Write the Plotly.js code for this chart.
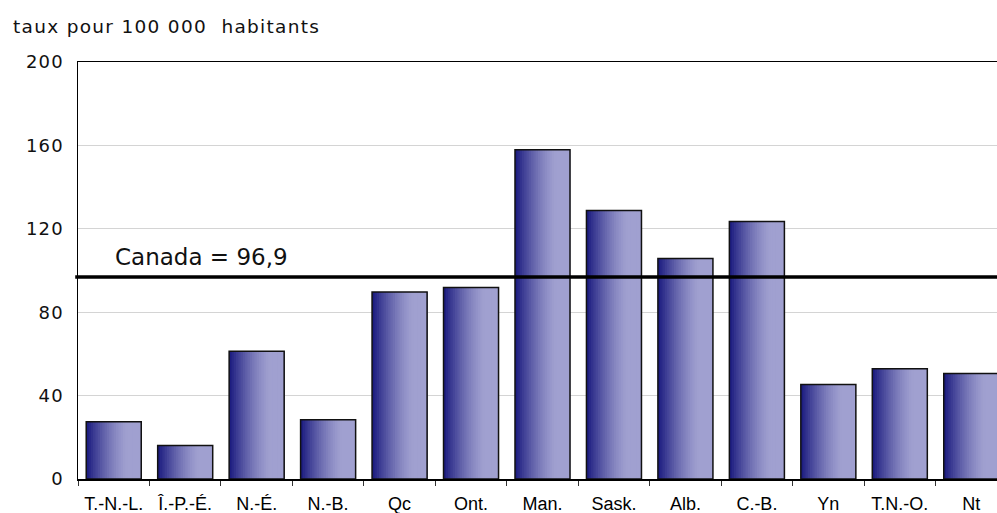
<!DOCTYPE html>
<html>
<head>
<meta charset="utf-8">
<script src="https://cdn.plot.ly/plotly-3.0.1.min.js"></script>
<style>
  html, body { margin: 0; padding: 0; background: #fff; overflow: hidden; width: 997px; height: 513px; }
  #chart { width: 1040px; height: 513px; }
  .ytick text { letter-spacing: 1.2px; }
  .gtitle { letter-spacing: 1.3px; }
</style>
</head>
<body>
<div id="chart"></div>
<script>
// Data
const categories = ['T.-N.-L.', 'Î.-P.-É.', 'N.-É.', 'N.-B.', 'Qc', 'Ont.', 'Man.', 'Sask.', 'Alb.', 'C.-B.', 'Yn', 'T.N.-O.', 'Nt'];
const rates = [27.4, 16.1, 61.3, 28.4, 89.7, 91.9, 157.9, 128.8, 105.8, 123.5, 45.3, 52.9, 50.6];
const canadaRate = 96.9;
const canadaLabel = 'Canada = 96,9';
const yTickValues = [0, 40, 80, 120, 160, 200];
const yTitle = 'taux pour 100 000\u00A0 habitants';

// Styling
const barWidth = 0.77;
const nSlices = 24;
const dark = [24, 24, 125];
const light = [160, 160, 208];

function sliceColor(t) {
  let u = Math.min(1, t / 0.75);
  u = 1 - Math.pow(1 - u, 1.4);
  const c = dark.map((d, i) => Math.round(d + (light[i] - d) * u));
  return 'rgb(' + c.join(',') + ')';
}

const traces = [];
for (let k = 0; k < nSlices; k++) {
  const start = k * barWidth / nSlices;
  traces.push({
    type: 'bar',
    x: categories,
    y: rates,
    width: barWidth - start,
    offset: -barWidth / 2 + start,
    marker: { color: sliceColor((k + 0.5) / nSlices), line: { width: 0 } },
    hoverinfo: 'skip',
    showlegend: false
  });
}
traces.push({
  type: 'bar',
  x: categories,
  y: rates,
  width: barWidth,
  offset: -barWidth / 2,
  marker: { color: 'rgba(0,0,0,0)', line: { color: '#111', width: 1.5 } },
  hoverinfo: 'skip',
  showlegend: false
});

const layout = {
  width: 1040,
  height: 513,
  margin: { l: 78, r: 33, t: 62, b: 34 },
  paper_bgcolor: '#fff',
  plot_bgcolor: '#fff',
  barmode: 'overlay',
  showlegend: false,
  hovermode: false,
  title: {
    text: yTitle,
    xref: 'container', yref: 'container',
    x: 13 / 1040, xanchor: 'left',
    y: 1 - 27 / 513, yanchor: 'middle',
    font: { family: 'DejaVu Sans, Verdana, sans-serif', size: 18.5, color: '#111' }
  },
  xaxis: {
    type: 'category',
    range: [-0.5, 12.5],
    showgrid: false,
    zeroline: false,
    showline: true, linecolor: '#000', linewidth: 1.5, mirror: true,
    ticks: 'outside', tickson: 'boundaries', ticklen: 5, tickcolor: '#333', tickwidth: 1,
    ticklabelstandoff: 8,
    tickfont: { family: 'Liberation Sans, Arial, sans-serif', size: 18, color: '#000' },
    fixedrange: true
  },
  yaxis: {
    range: [0, 200],
    tickvals: yTickValues,
    ticktext: yTickValues.map(String),
    showgrid: true, gridcolor: '#d4d4d4', gridwidth: 1,
    zeroline: false,
    showline: true, linecolor: '#000', linewidth: 1.5,
    ticks: '',
    ticklabelstandoff: 9,
    tickfont: { family: 'DejaVu Sans, Verdana, sans-serif', size: 18, color: '#111' },
    fixedrange: true
  },
  shapes: [{
    type: 'line', xref: 'paper', yref: 'y',
    x0: -0.003, x1: 1, y0: canadaRate, y1: canadaRate,
    line: { color: '#000', width: 3.5 }
  }],
  annotations: [{
    text: canadaLabel,
    xref: 'paper', yref: 'y',
    x: (114 - 78) / 929, xanchor: 'left',
    y: canadaRate, yanchor: 'bottom', yshift: 6,
    showarrow: false, borderpad: 0,
    font: { family: 'DejaVu Sans, Verdana, sans-serif', size: 23, color: '#111' }
  }]
};

Plotly.newPlot('chart', traces, layout, { staticPlot: true, displayModeBar: false });
</script>
</body>
</html>
